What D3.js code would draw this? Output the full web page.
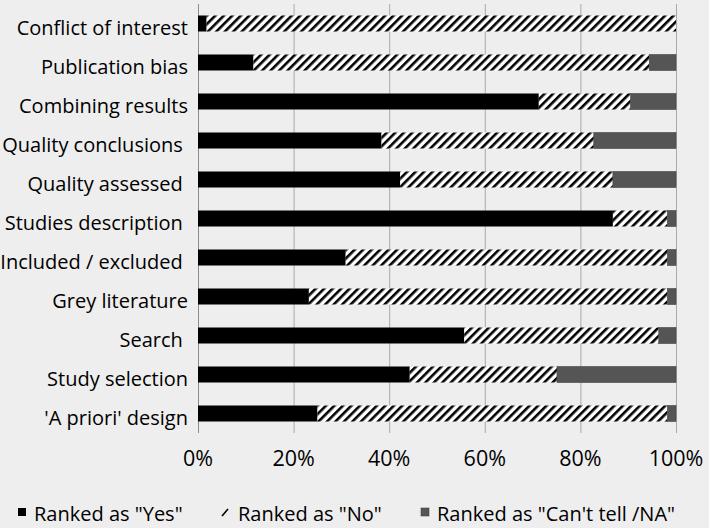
<!DOCTYPE html>
<html lang="en">
<head>
  <meta charset="UTF-8">
  <title>Quality items ranking</title>
  <script src="https://d3js.org/d3.v7.min.js"></script>
  <style>
    body {
      margin: 0;
      background-color: #eeeeee;
      font-family: "Open Sans", Arial, sans-serif;
    }
    svg text { white-space: pre; fill: #000; }
  </style>
</head>
<body>
<div id="chart"></div>

<script>
// categories, top to bottom (trailing spaces kept as in the original labels)
const categories = [
  "Conflict of interest",
  "Publication bias",
  "Combining results",
  "Quality conclusions ",
  "Quality assessed ",
  "Studies description ",
  "Included / excluded ",
  "Grey literature",
  "Search ",
  "Study selection",
  "'A priori' design"
];

// percentages
const yesValues = [1.8, 11.6, 71.3, 38.4, 42.3, 86.8, 30.9, 23.2, 55.7, 44.3, 25.0];
const noValues = [98.2, 82.8, 19.2, 44.4, 44.5, 11.4, 67.3, 75.0, 40.7, 30.8, 73.2];
const cantTellValues = [0, 5.6, 9.5, 17.2, 13.2, 1.8, 1.8, 1.8, 3.6, 24.9, 1.8];

const seriesNames = ["Ranked as \"Yes\"", "Ranked as \"No\"", "Ranked as \"Can't tell /NA\""];
const xTicks = [0, 20, 40, 60, 80, 100];

const width = 709;
const height = 528;
const margin = { top: 4, right: 33, bottom: 95, left: 198 };

const rows = categories.map((c, i) => ({
  name: c,
  yes: yesValues[i],
  no: noValues[i],
  na: cantTellValues[i]
}));

const svg = d3.select("#chart")
  .append("svg")
  .attr("width", width)
  .attr("height", height)
  .style("display", "block");

svg.append("rect")
  .attr("width", width)
  .attr("height", height)
  .attr("fill", "#eeeeee");

// hatch pattern for the "No" series
const defs = svg.append("defs");
const hatch = defs.append("pattern")
  .attr("id", "hatch")
  .attr("patternUnits", "userSpaceOnUse")
  .attr("width", 6)
  .attr("height", 6)
  .attr("patternTransform", "rotate(45)");
hatch.append("rect").attr("width", 6).attr("height", 6).attr("fill", "#ffffff");
hatch.append("rect").attr("width", 2.6).attr("height", 6).attr("fill", "#000000");

const x = d3.scaleLinear()
  .domain([0, 100])
  .range([margin.left, width - margin.right]);

const y = d3.scaleBand()
  .domain(categories)
  .range([margin.top, height - margin.bottom])
  .paddingInner(0.59)
  .paddingOuter(0.295);

// gridlines
svg.append("g")
  .selectAll("line")
  .data(xTicks)
  .enter().append("line")
  .attr("x1", d => x(d) + 0.5)
  .attr("x2", d => x(d) + 0.5)
  .attr("y1", margin.top)
  .attr("y2", height - margin.bottom)
  .attr("stroke", d => d === 0 ? "#8c8c8c" : "#a9a9a9")
  .attr("stroke-width", 1);

// stacked bars
const stack = d3.stack().keys(["yes", "no", "na"]);
const stacked = stack(rows);
const fills = { yes: "#000000", no: "url(#hatch)", na: "#555555" };

svg.append("g")
  .selectAll("g")
  .data(stacked)
  .enter().append("g")
  .attr("fill", d => fills[d.key])
  .attr("stroke", d => d.key === "na" ? "#444444" : "none")
  .attr("stroke-width", 0.6)
  .selectAll("rect")
  .data(d => d)
  .enter().append("rect")
  .attr("x", d => x(d[0]))
  .attr("y", d => y(d.data.name))
  .attr("width", d => Math.max(0, x(d[1]) - x(d[0])))
  .attr("height", y.bandwidth());

// category labels
svg.append("g")
  .selectAll("text")
  .data(categories)
  .enter().append("text")
  .attr("x", margin.left - 10)
  .attr("y", d => y(d) + y.bandwidth() / 2 + 11)
  .attr("text-anchor", "end")
  .style("font-size", "20px")
  .text(d => d);

// x tick labels
svg.append("g")
  .selectAll("text")
  .data(xTicks)
  .enter().append("text")
  .attr("x", d => x(d))
  .attr("y", 466)
  .attr("text-anchor", "middle")
  .style("font-size", "21.5px")
  .text(d => d + "%");

// legend
const legend = svg.append("g");
const legendX = [18, 222, 421];
const legendY = 508;

legend.append("rect")
  .attr("x", legendX[0]).attr("y", legendY)
  .attr("width", 8).attr("height", 8)
  .attr("fill", "#000000");

legend.append("line")
  .attr("x1", legendX[1]).attr("y1", legendY + 8)
  .attr("x2", legendX[1] + 6).attr("y2", legendY + 1)
  .attr("stroke", "#000").attr("stroke-width", 1.6);

legend.append("rect")
  .attr("x", legendX[2]).attr("y", legendY)
  .attr("width", 8).attr("height", 8)
  .attr("fill", "#555555")
  .attr("stroke", "#444444")
  .attr("stroke-width", 0.6);

legend.selectAll("text")
  .data(seriesNames)
  .enter().append("text")
  .attr("x", (d, i) => legendX[i] + 16)
  .attr("y", legendY + 13)
  .style("font-size", "20px")
  .text(d => d);
</script>
</body>
</html>
